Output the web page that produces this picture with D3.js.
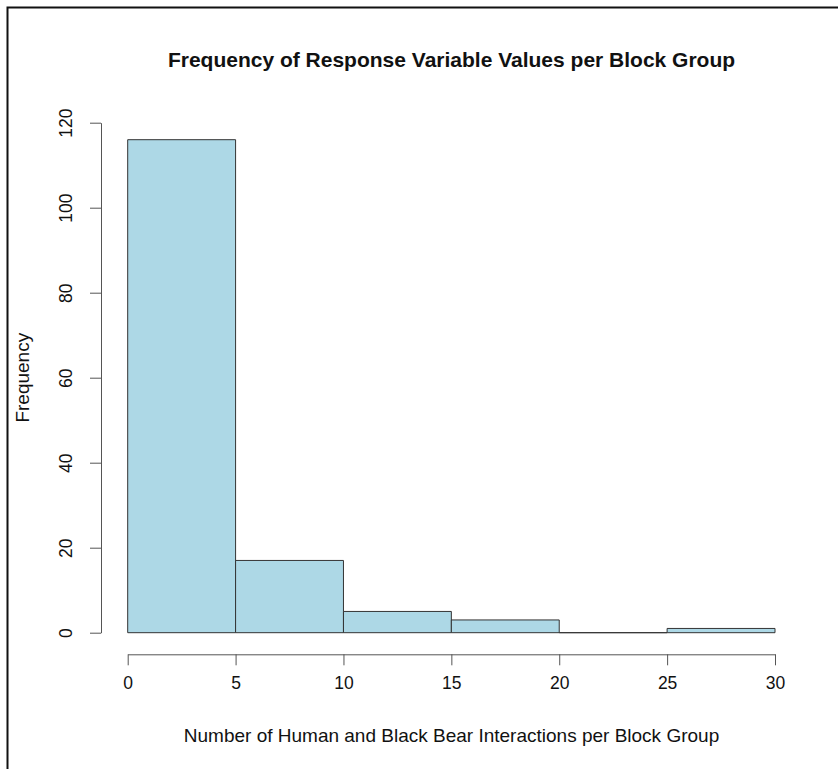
<!DOCTYPE html>
<html>
<head>
<meta charset="utf-8">
<script src="https://cdn.jsdelivr.net/npm/d3@7"></script>
<style>
  body { margin: 0; background: #fff; }
  text { font-family: "Liberation Sans", Arial, Helvetica, sans-serif; fill: #111; }
</style>
</head>
<body>
<div id="chart-container"></div>
<script>
// histogram bins (interactions per block group) and counts
var binStarts = [0, 5, 10, 15, 20, 25];
var binWidth = 5;
var counts = [116, 17, 5, 3, 0, 1];
var xTicks = [0, 5, 10, 15, 20, 25, 30];
var yTicks = [0, 20, 40, 60, 80, 100, 120];

var chartTitle = "Frequency of Response Variable Values per Block Group";
var xLabel = "Number of Human and Black Bear Interactions per Block Group";
var yLabel = "Frequency";

const width = 838;
const height = 769;

const svg = d3.select("#chart-container")
    .append("svg")
    .attr("width", width)
    .attr("height", height);

// frame (only top and left edges show in the picture)
svg.append("path")
    .attr("d", "M7.5,769 L7.5,7.5 L838,7.5")
    .attr("fill", "none")
    .attr("stroke", "#111")
    .attr("stroke-width", 2);

const xScale = d3.scaleLinear()
    .domain([0, 30])
    .range([127.7, 775]);

const yScale = d3.scaleLinear()
    .domain([0, 120])
    .range([632.7, 122.7]);

// bars - drawn as paths so the empty bin still shows its flat outline
svg.selectAll("path.bar")
    .data(counts)
    .enter()
    .append("path")
    .attr("class", "bar")
    .attr("d", (d, i) => {
        var x0 = xScale(binStarts[i]), x1 = xScale(binStarts[i] + binWidth);
        var y0 = yScale(0), y1 = yScale(d);
        return `M${x0},${y0}H${x1}V${y1}H${x0}Z`;
    })
    .attr("fill", "#add8e6")
    .attr("stroke", "#333")
    .attr("stroke-width", 1);

// x axis
const xAxis = d3.axisBottom(xScale)
    .tickValues(xTicks)
    .tickSize(11)
    .tickPadding(11)
    .tickSizeOuter(0);

const gx = svg.append("g")
    .attr("transform", "translate(0,654.3)")
    .call(xAxis);
gx.select(".domain").attr("stroke", "#555");
gx.selectAll(".tick line").attr("stroke", "#555");
gx.selectAll("text")
    .style("font-size", "17.5px")
    .style("font-family", "Liberation Sans, Arial, sans-serif")
    .attr("fill", "#111");

// y axis
const yAxis = d3.axisLeft(yScale)
    .tickValues(yTicks)
    .tickSize(11)
    .tickPadding(0)
    .tickSizeOuter(0);

const gy = svg.append("g")
    .attr("transform", "translate(101,0)")
    .call(yAxis);
gy.select(".domain").attr("stroke", "#555");
gy.selectAll(".tick line").attr("stroke", "#555");
gy.selectAll("text")
    .attr("x", null)
    .attr("dy", null)
    .attr("transform", "translate(-35,0) rotate(-90)")
    .attr("text-anchor", "middle")
    .attr("dominant-baseline", "central")
    .style("font-size", "17.5px")
    .style("font-family", "Liberation Sans, Arial, sans-serif")
    .attr("fill", "#111");

// title
svg.append("text")
    .attr("x", 451.5)
    .attr("y", 67)
    .attr("text-anchor", "middle")
    .style("font-size", "21px")
    .style("font-weight", "bold")
    .text(chartTitle);

// x label
svg.append("text")
    .attr("x", 451.5)
    .attr("y", 742)
    .attr("text-anchor", "middle")
    .style("font-size", "19px")
    .text(xLabel);

// y label
svg.append("text")
    .attr("transform", "translate(29,377.7) rotate(-90)")
    .attr("text-anchor", "middle")
    .style("font-size", "19px")
    .text(yLabel);
</script>
</body>
</html>
